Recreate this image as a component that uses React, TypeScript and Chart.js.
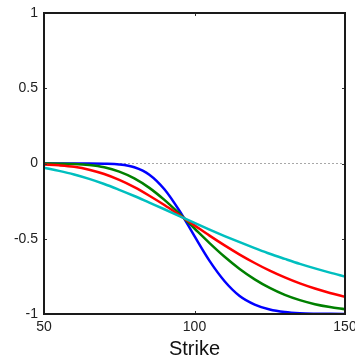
import React, { useEffect, useRef } from "react";
import { Chart, registerables } from "chart.js";

Chart.register(...registerables);

// Strike values (x) and put-delta-like curves
const strikes = [50, 55, 60, 65, 70, 75, 80, 85, 90, 95, 100, 105, 110, 115, 120, 125, 130, 135, 140, 145, 150];
const deltaBlue = [0, 0, 0, 0, -0.001, -0.006, -0.025, -0.074, -0.171, -0.314, -0.483, -0.647, -0.782, -0.88, -0.937, -0.97, -0.987, -0.995, -0.998, -0.999, -1.0];
const deltaGreen = [0, -0.001, -0.003, -0.01, -0.025, -0.054, -0.099, -0.162, -0.242, -0.334, -0.432, -0.529, -0.62, -0.701, -0.77, -0.827, -0.873, -0.908, -0.935, -0.954, -0.968];
const deltaRed = [-0.006, -0.012, -0.022, -0.041, -0.07, -0.109, -0.157, -0.214, -0.276, -0.343, -0.411, -0.479, -0.544, -0.605, -0.661, -0.712, -0.757, -0.797, -0.831, -0.86, -0.885];
const deltaCyan = [-0.028, -0.049, -0.073, -0.102, -0.136, -0.175, -0.216, -0.26, -0.304, -0.35, -0.395, -0.439, -0.482, -0.523, -0.562, -0.6, -0.634, -0.667, -0.697, -0.725, -0.751];
const zeroLineX = [50, 150];
const zeroLineY = [0, 0];
const xTickValues = [50, 100, 150];
const yTickValues = [-1, -0.5, 0, 0.5, 1];
const yTickLabels = ["-1", "-0.5", "0", "0.5", "1"];
const xTitle = "Strike";

const toPoints = (xs: number[], ys: number[]) => xs.map((x, i) => ({ x, y: ys[i] }));

const FONT = '"Liberation Sans", Arial, Helvetica, sans-serif';

const framePlugin = {
  id: "frameAndTicks",
  afterDraw(chart: any) {
    const { ctx, chartArea } = chart;
    const { left, right, top, bottom } = chartArea;
    const xs = chart.scales.x;
    const ys = chart.scales.y;
    ctx.save();
    ctx.strokeStyle = "#333";
    ctx.lineWidth = 1;
    ctx.beginPath();
    for (const v of yTickValues) {
      const py = Math.round(ys.getPixelForValue(v)) + 0.5;
      ctx.moveTo(left, py);
      ctx.lineTo(left + 3, py);
      ctx.moveTo(right, py);
      ctx.lineTo(right - 3, py);
    }
    for (const v of xTickValues) {
      const px = Math.round(xs.getPixelForValue(v)) + 0.5;
      ctx.moveTo(px, bottom);
      ctx.lineTo(px, bottom - 3);
      ctx.moveTo(px, top);
      ctx.lineTo(px, top + 3);
    }
    ctx.stroke();
    ctx.strokeStyle = "#1a1a1a";
    ctx.lineWidth = 2;
    ctx.strokeRect(left, top, right - left, bottom - top);
    ctx.restore();
  },
};

export default function App() {
  const canvasRef = useRef<HTMLCanvasElement | null>(null);

  useEffect(() => {
    document.body.style.margin = "0";
    const canvas = canvasRef.current;
    if (!canvas) return;
    const lineDs = (label: string, ys: number[], color: string) => ({
      label,
      data: toPoints(strikes, ys),
      borderColor: color,
      backgroundColor: color,
      borderWidth: 2.5,
      pointRadius: 0,
      cubicInterpolationMode: "monotone" as const,
      fill: false,
    });
    const chart = new Chart(canvas, {
      type: "line",
      data: {
        datasets: [
          lineDs("cyan", deltaCyan, "#00bfbf"),
          lineDs("red", deltaRed, "#ff0000"),
          lineDs("green", deltaGreen, "#008000"),
          lineDs("blue", deltaBlue, "#0000ff"),
          {
            label: "zero",
            data: toPoints(zeroLineX, zeroLineY),
            borderColor: "#a8a8a8",
            borderWidth: 1,
            borderDash: [2, 2],
            pointRadius: 0,
            fill: false,
          },
        ],
      },
      options: {
        responsive: false,
        animation: false,
        devicePixelRatio: 1,
        layout: { padding: { top: 13, right: 10, left: 0, bottom: 0 } },
        plugins: { legend: { display: false }, tooltip: { enabled: false } },
        scales: {
          x: {
            type: "linear",
            min: 50,
            max: 150,
            afterBuildTicks: (scale: any) => {
              scale.ticks = xTickValues.map((v) => ({ value: v }));
            },
            afterFit: (scale: any) => {
              scale.height = 44;
              scale.paddingLeft = 0;
              scale.paddingRight = 0;
            },
            grid: { display: false, drawTicks: false },
            border: { display: false },
            ticks: {
              padding: 5,
              autoSkip: false,
              maxRotation: 0,
              color: "#222",
              font: { family: FONT, size: 14 },
              callback: (v: any) => String(v),
            },
            title: {
              display: true,
              text: xTitle,
              color: "#111",
              padding: 0,
              font: { family: FONT, size: 20, lineHeight: 0.9 },
            },
          },
          y: {
            type: "linear",
            min: -1,
            max: 1,
            afterBuildTicks: (scale: any) => {
              scale.ticks = yTickValues.map((v) => ({ value: v }));
            },
            afterFit: (scale: any) => {
              scale.width = 44;
              scale.paddingTop = 0;
              scale.paddingBottom = 0;
            },
            grid: { display: false, drawTicks: false },
            border: { display: false },
            ticks: {
              padding: 6,
              autoSkip: false,
              color: "#222",
              font: { family: FONT, size: 14 },
              callback: (v: any) => {
                const i = yTickValues.indexOf(Number(v));
                return i >= 0 ? yTickLabels[i] : String(v);
              },
            },
          },
        },
      },
      plugins: [framePlugin],
    });
    return () => chart.destroy();
  }, []);

  return (
    <div style={{ position: "fixed", left: 0, top: 0, width: 355, height: 358, background: "#fff" }}>
      <canvas ref={canvasRef} width={355} height={358} style={{ width: 355, height: 358 }} />
    </div>
  );
}
